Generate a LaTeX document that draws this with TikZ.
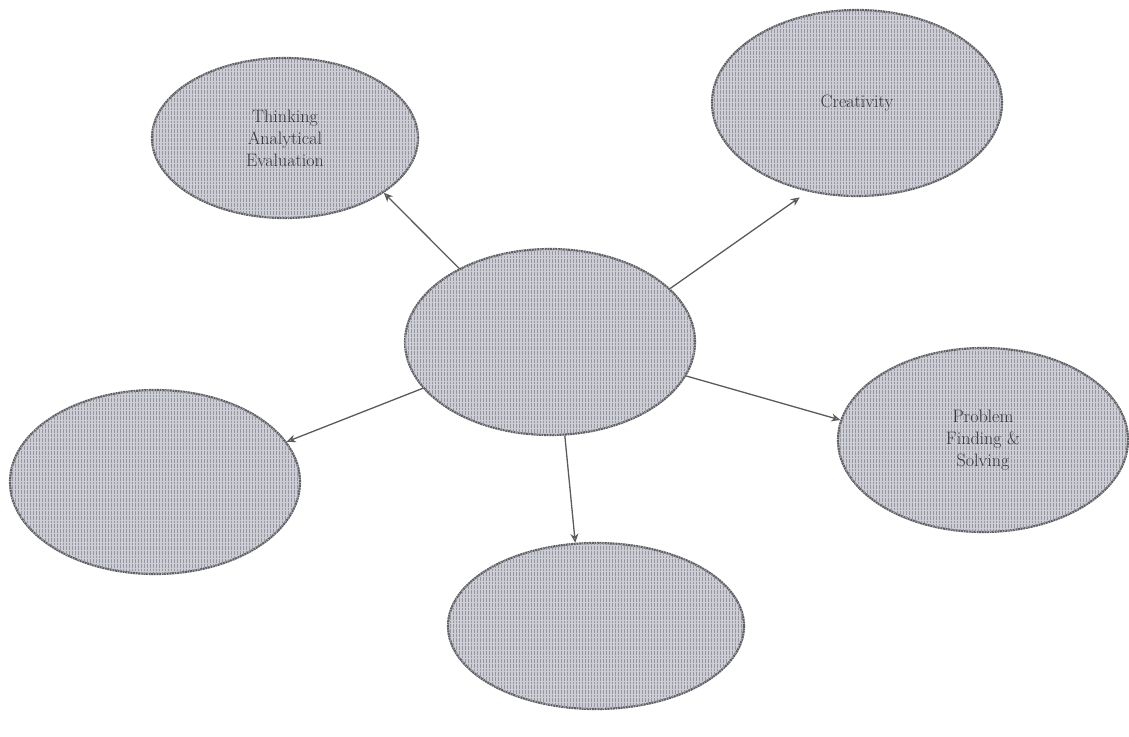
\documentclass[tikz,border=0pt]{standalone}
\usetikzlibrary{shapes.geometric,arrows.meta,patterns}
\definecolor{bubblefill}{RGB}{205,205,214}
\definecolor{bubbleline}{RGB}{95,95,100}
\definecolor{hatch}{RGB}{150,150,160}
\definecolor{arrowcol}{RGB}{90,90,95}
\definecolor{txtcol}{RGB}{55,55,65}
\begin{document}
\begin{tikzpicture}[x=1pt,y=-1pt,
  bubble/.style={ellipse,draw=bubbleline,line width=2.2pt,dash pattern=on 2pt off 0.6pt,
    fill=bubblefill,postaction={pattern=vertical lines,pattern color=hatch},
    inner sep=0pt,font=\fontsize{18}{22}\selectfont,text=txtcol,align=center},
  link/.style={draw=arrowcol,line width=1.3pt,-{Stealth[open,length=9pt,width=8pt]}}]
\useasboundingbox (0,0) rectangle (1129,736);
\fill[white] (0,0) rectangle (1129,736);
\node[bubble,minimum width=266pt,minimum height=160pt] (tl) at (285,138) {Thinking\\Analytical\\Evaluation};
\node[bubble,minimum width=290pt,minimum height=186pt] (tr) at (857,103) {Creativity};
\node[bubble,minimum width=290pt,minimum height=186pt] (c) at (550,342) {};
\node[bubble,minimum width=290pt,minimum height=184pt] (l) at (155,482) {};
\node[bubble,minimum width=290pt,minimum height=184pt] (r) at (983,440) {Problem\\Finding \&\\Solving};
\node[bubble,minimum width=296pt,minimum height=166pt] (b) at (596,626) {};
\draw[link] (c.141) -- (tl.331);
\draw[link,shorten >=10pt] (c.24) -- (tr.241);
\draw[link] (c.200) -- (l.17);
\draw[link] (c.346) -- (r.172);
\draw[link] (c.279) -- (b.104);
\end{tikzpicture}
\end{document}
